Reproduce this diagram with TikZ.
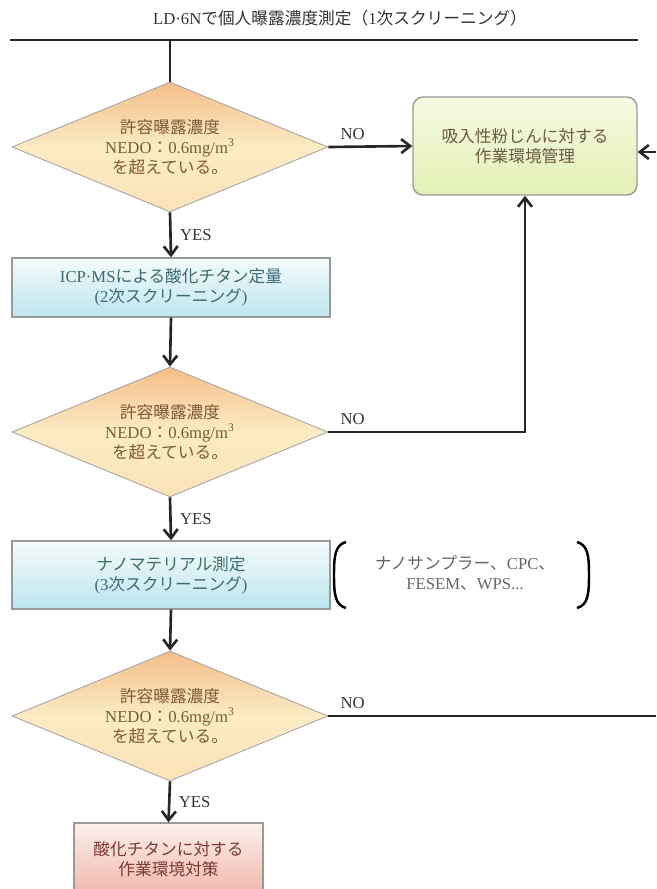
\documentclass[tikz,border=0pt]{standalone}
\usepackage{fontspec}
\setmainfont{Liberation Serif}
\newfontfamily\cjk{Noto Sans CJK JP}
\usetikzlibrary{shapes.geometric,arrows.meta}

\newcommand{\ja}[1]{{\cjk #1}}

\definecolor{decTop}{HTML}{F4BE88}
\definecolor{decMid}{HTML}{FCEBC4}
\definecolor{decBot}{HTML}{FBE2B8}
\definecolor{decText}{HTML}{7B5A3A}
\definecolor{procTop}{HTML}{F6FBFC}
\definecolor{procBot}{HTML}{BCE5EE}
\definecolor{procText}{HTML}{3A6A74}
\definecolor{ctrlTop}{HTML}{F6FAE2}
\definecolor{ctrlBot}{HTML}{E3F0B4}
\definecolor{ctrlText}{HTML}{6A5A40}
\definecolor{measTop}{HTML}{FBF0EC}
\definecolor{measBot}{HTML}{F2B6AC}
\definecolor{measText}{HTML}{7A3B33}

\begin{document}
\begin{tikzpicture}[x=0.02cm, y=-0.02cm, >={Straight Barb[length=1.8mm,width=2.8mm]},
    font=\fontsize{9.5}{11.4}\selectfont,
    dec/.style={diamond, aspect=2.4, draw=gray!70, line width=0.5pt, top color=decTop, bottom color=decBot,
        middle color=decMid, minimum width=6.32cm, minimum height=2.6cm, inner sep=0pt,
        align=center, text=decText},
    proc/.style={rectangle, draw=gray!80, line width=0.8pt, top color=procTop, bottom color=procBot,
        minimum width=6.36cm, align=center, text=procText},
    ctrl/.style={rectangle, rounded corners=0.2cm, draw=gray!80, line width=0.8pt, top color=ctrlTop,
        bottom color=ctrlBot, minimum width=4.48cm, minimum height=1.96cm, align=center, text=ctrlText},
    meas/.style={rectangle, draw=gray!80, line width=0.8pt, top color=measTop, bottom color=measBot,
        minimum width=3.78cm, minimum height=1.44cm, align=center, text=measText},
    flow/.style={line width=1.5pt, draw=black!85},
    lbl/.style={text=black!80}]

    \useasboundingbox (0,0) rectangle (656,889);

    % 1次スクリーニング
    \node[text=black!80] (title) at (340,18)
        {LD·6N\ja{で個人曝露濃度測定（}1\ja{次スクリーニング）}};
    \coordinate (tl) at (10,40);
    \coordinate (tr) at (638,40);
    \coordinate (tm) at (170,40);
    \draw[flow] (tl) -- (tr);

    % 判定と処理
    \node[dec] (dia1) at (170,147) {\ja{許容曝露濃度}\\NEDO\ja{：}0.6mg/m\textsuperscript{3}\\\ja{を超えている。}};
    \node[ctrl] (gbox) at (525,146) {\ja{吸入性粉じんに対する}\\\ja{作業環境管理}};
    \node[proc, minimum height=1.18cm] (box1) at (171,287.5) {ICP·MS\ja{による酸化チタン定量}\\(2\ja{次スクリーニング})};
    \node[dec] (dia2) at (170,432) {\ja{許容曝露濃度}\\NEDO\ja{：}0.6mg/m\textsuperscript{3}\\\ja{を超えている。}};
    \node[proc, minimum height=1.36cm] (box2) at (171,575) {\ja{ナノマテリアル測定}\\(3\ja{次スクリーニング})};
    \node[text=black!60, align=center] (tools) at (465,573) {\ja{ナノサンプラー、}CPC\ja{、}\\FESEM\ja{、}WPS...};
    \node[dec] (dia3) at (170,716) {\ja{許容曝露濃度}\\NEDO\ja{：}0.6mg/m\textsuperscript{3}\\\ja{を超えている。}};
    \node[meas] (pbox) at (168.5,859) {\ja{酸化チタンに対する}\\\ja{作業環境対策}};

    % 括弧
    \draw[line width=1.4pt] (346,542) .. controls (335,545) and (334,556) .. (334,575)
        .. controls (334,594) and (335,605) .. (346,608);
    \draw[line width=1.4pt] (577,542) .. controls (588,545) and (589,556) .. (589,575)
        .. controls (589,594) and (588,605) .. (577,608);

    % 矢印
    \draw[flow] (tm) -- (dia1.north);
    \draw[flow,->] (dia1.east) -- (gbox.west) node[lbl, pos=0, above right, xshift=0.1cm] {NO};
    \draw[flow,->] (dia1.south) -- (box1.north) node[lbl, midway, right, xshift=0.05cm] {YES};
    \draw[flow,->] (box1.south) -- (dia2.north);
    \draw[flow,->] (dia2.east) -| (gbox.south) node[lbl, pos=0, above right, xshift=0.1cm] {NO};
    \draw[flow,->] (dia2.south) -- (box2.north) node[lbl, midway, right, xshift=0.05cm] {YES};
    \draw[flow,->] (box2.south) -- (dia3.north);
    \coordinate (rout) at (656,716);
    \draw[flow] (dia3.east) -- (rout) node[lbl, pos=0, above right, xshift=0.1cm] {NO};
    \draw[flow,->] (dia3.south) -- (pbox.north) node[lbl, midway, right, xshift=0.05cm] {YES};
    \coordinate (rin) at (656,152);
    \draw[flow,->] (rin) -- (rin -| gbox.east);
\end{tikzpicture}
\end{document}
